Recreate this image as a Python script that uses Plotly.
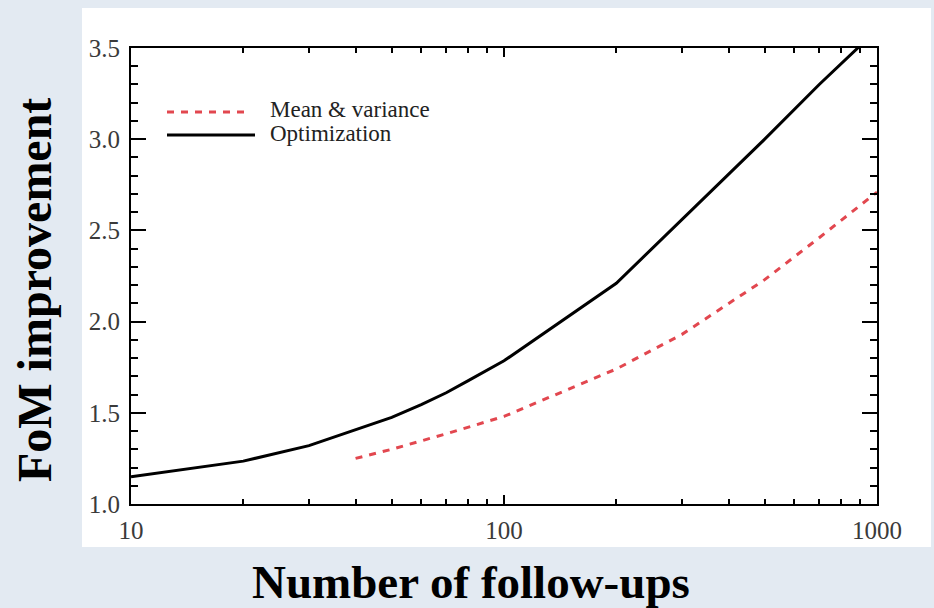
import plotly.graph_objects as go

# Number of follow-up observations (log axis)
opt_x = [10, 20, 30, 40, 50, 60, 70, 80, 100, 200, 300, 500, 700, 1000]
# FoM improvement from the full optimization
opt_y = [1.15, 1.235, 1.32, 1.405, 1.475, 1.545, 1.61, 1.675, 1.785, 2.21, 2.56, 3.00, 3.30, 3.60]

mv_x = [40, 50, 70, 100, 200, 300, 500, 700, 1000]
# FoM improvement from matching mean & variance
mv_y = [1.25, 1.30, 1.385, 1.48, 1.74, 1.93, 2.23, 2.46, 2.71]

x_ticks = [10, 100, 1000]
x_tick_text = ["10", "100", "1000"]
x_minor = [20, 30, 40, 50, 60, 70, 80, 90, 200, 300, 400, 500, 600, 700, 800, 900]

series_names = ["Mean & variance", "Optimization"]
x_title = "Number of follow-ups"
y_title = "FoM improvement"

RED = "#e2474f"
SERIF = "Liberation Serif, Times New Roman, serif"
TICK_FONT = dict(family=SERIF, size=25, color="#3a3a3a")

fig = go.Figure()
fig.add_trace(go.Scatter(x=opt_x, y=opt_y, mode="lines", name=series_names[1],
                         line=dict(color="black", width=3)))
fig.add_trace(go.Scatter(x=mv_x, y=mv_y, mode="lines", name=series_names[0],
                         line=dict(color=RED, width=3, dash="7px,7px")))

W, H = 934, 608
L, R, T, B = 131, 57, 48, 104
pw, ph = W - L - R, H - T - B


def px(xpix):
    return (xpix - L) / pw


def py(ypix):
    return (H - B - ypix) / ph


shapes = [
    # white figure panel on the slide background
    dict(type="rect", xref="paper", yref="paper", x0=px(82), x1=px(931),
         y0=py(547), y1=py(8), fillcolor="white", line=dict(width=0), layer="below"),
    # legend keys
    dict(type="line", xref="paper", yref="paper", x0=px(167), x1=px(247),
         y0=py(112), y1=py(112), line=dict(color=RED, width=3, dash="7px,7px")),
    dict(type="line", xref="paper", yref="paper", x0=px(167), x1=px(255),
         y0=py(135), y1=py(135), line=dict(color="black", width=3)),
]

annotations = [
    dict(text=series_names[0], xref="paper", yref="paper", x=px(268), y=py(109),
         xanchor="left", yanchor="middle", showarrow=False,
         font=dict(family=SERIF, size=23, color="#222")),
    dict(text=series_names[1], xref="paper", yref="paper", x=px(268), y=py(133),
         xanchor="left", yanchor="middle", showarrow=False,
         font=dict(family=SERIF, size=23, color="#222")),
    dict(text="<b>" + x_title + "</b>", xref="paper", yref="paper", x=px(471), y=py(582),
         xanchor="center", yanchor="middle", showarrow=False,
         font=dict(family=SERIF, size=47, color="black")),
    dict(text="<b>" + y_title + "</b>", xref="paper", yref="paper", x=px(34), y=py(290),
         xanchor="center", yanchor="middle", showarrow=False, textangle=-90,
         font=dict(family=SERIF, size=48, color="black")),
]

fig.update_layout(
    width=W, height=H,
    margin=dict(l=L, r=R, t=T, b=B, pad=0),
    paper_bgcolor="#e3eaf2",
    plot_bgcolor="white",
    showlegend=False,
    shapes=shapes,
    annotations=annotations,
)

fig.update_xaxes(
    type="log", range=[1, 3],
    tickvals=x_ticks, ticktext=x_tick_text,
    ticks="inside", ticklen=9, tickwidth=1.5, tickcolor="black",
    minor=dict(tickvals=x_minor, ticks="inside", ticklen=5, tickwidth=1.5, tickcolor="black"),
    showline=True, linecolor="black", linewidth=2, mirror="ticks",
    showgrid=False, zeroline=False,
    tickfont=TICK_FONT, ticklabelstandoff=3,
)
fig.update_yaxes(
    range=[1.0, 3.5], tick0=1.0, dtick=0.5, tickformat=".1f",
    ticks="inside", ticklen=15, tickwidth=1.5, tickcolor="black",
    minor=dict(dtick=0.1, ticks="inside", ticklen=7, tickwidth=1.5, tickcolor="black"),
    showline=True, linecolor="black", linewidth=2, mirror="ticks",
    showgrid=False, zeroline=False,
    tickfont=TICK_FONT, ticklabelstandoff=4,
)

fig.write_html("out.html")
